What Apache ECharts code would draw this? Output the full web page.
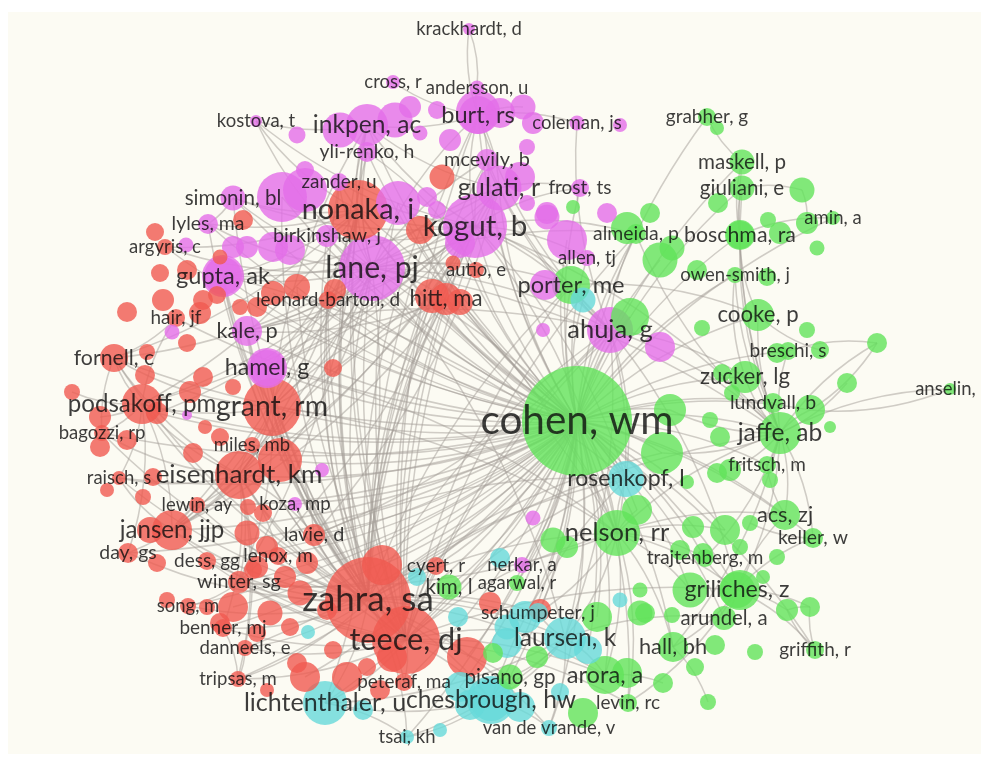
<!DOCTYPE html>
<html>
<head>
<meta charset="utf-8">
<script src="https://cdn.jsdelivr.net/npm/echarts@6/dist/echarts.min.js"></script>
<style>
  html, body { margin: 0; padding: 0; background: #ffffff; }
  #panel { position: absolute; left: 8px; top: 12px; width: 973px; height: 742px; background: #fcfbf3; }
  #chart { position: absolute; left: 0; top: 0; width: 981px; height: 760px; }
</style>
</head>
<body>
<div id="panel"></div>
<div id="chart"></div>
<script>
// Co-citation map, four clusters. Each node: [name, mapX, mapY, weight]
// names with a comma are authors that get a label, short ids are unlabeled nodes

const clusterNames = ['Cluster 1', 'Cluster 2', 'Cluster 3', 'Cluster 4'];
const clusterColors = ['#f05a50', '#62e35a', '#e46ee9', '#66d9d9'];

const redNodes = [
  ['nonaka, i', 358, 210, 60], ['zahra, sa', 368, 600, 86], ['teece, dj', 406, 640, 68],
  ['grant, rm', 272, 407, 58], ['podsakoff, pm', 142, 404, 40], ['eisenhardt, km', 239, 475, 48],
  ['jansen, jjp', 172, 530, 40], ['hitt, ma', 446, 299, 32], ['fornell, c', 114, 358, 28],
  ['bagozzi, rp', 102, 433, 16], ['miles, mb', 252, 445, 16], ['raisch, s', 119, 478, 14],
  ['lewin, ay', 197, 505, 16], ['autio, e', 476, 270, 16], ['leonard-barton, d', 328, 300, 18],
  ['hair, jf', 176, 318, 18], ['argyris, c', 165, 247, 16], ['lavie, d', 314, 535, 22],
  ['day, gs', 128, 553, 20], ['dess, gg', 207, 561, 18], ['lenox, m', 278, 556, 18],
  ['cyert, r', 436, 566, 18], ['winter, sg', 239, 582, 22], ['song, m', 188, 606, 16],
  ['benner, mj', 223, 628, 18], ['danneels, e', 245, 648, 16], ['tripsas, m', 238, 679, 16],
  ['peteraf, ma', 404, 682, 18],
  ['r1', 442, 177, 25], ['r2', 420, 230, 28], ['r3', 453, 263, 15], ['r4', 432, 296, 34],
  ['r5', 243, 220, 20], ['r6', 155, 232, 18], ['r7', 220, 257, 15], ['r8', 187, 270, 20],
  ['r9', 160, 273, 18], ['r10', 297, 287, 26], ['r11', 273, 293, 24], ['r12', 203, 300, 20],
  ['r13', 257, 307, 20], ['r14', 163, 300, 22], ['r15', 127, 312, 20], ['r16', 200, 313, 22],
  ['r17', 217, 295, 18], ['r18', 240, 307, 16], ['r19', 187, 343, 18], ['r20', 333, 368, 18],
  ['r21', 147, 352, 16], ['r22', 145, 375, 20], ['r23', 72, 392, 16], ['r24', 203, 377, 20],
  ['r25', 233, 387, 16], ['r26', 190, 392, 22], ['r27', 157, 413, 22], ['r28', 100, 417, 22],
  ['r29', 205, 427, 14], ['r30', 220, 437, 18], ['r31', 100, 447, 20], ['r32', 127, 440, 20],
  ['r33', 193, 453, 20], ['r34', 280, 460, 44], ['r35', 107, 490, 14], ['r36', 143, 497, 16],
  ['r37', 153, 477, 18], ['r38', 263, 513, 18], ['r39', 248, 507, 16], ['r40', 247, 533, 25],
  ['r41', 267, 547, 22], ['r42', 257, 567, 22], ['r43', 307, 563, 22], ['r44', 285, 577, 22],
  ['r45', 300, 593, 25], ['r46', 233, 607, 30], ['r47', 270, 613, 25], ['r48', 290, 627, 18],
  ['r49', 220, 623, 20], ['r50', 257, 633, 18], ['r51', 333, 650, 18], ['r52', 297, 663, 20],
  ['r53', 267, 690, 14], ['r54', 305, 677, 30], ['r55', 347, 677, 30], ['r56', 367, 667, 18],
  ['r57', 392, 657, 30], ['r58', 382, 565, 40], ['r59', 327, 610, 20], ['r60', 467, 657, 40],
  ['r61', 490, 603, 22], ['r62', 540, 610, 22], ['r63', 150, 530, 26], ['r64', 157, 563, 18],
  ['r65', 167, 600, 16], ['r66', 207, 607, 16], ['r67', 253, 570, 18], ['r68', 380, 690, 20],
  ['r69', 335, 290, 22], ['r70', 460, 302, 26]
];

const greenNodes = [
  ['grabher, g', 707, 117, 18], ['maskell, p', 742, 162, 25], ['giuliani, e', 742, 188, 25],
  ['amin, a', 833, 218, 14], ['almeida, p', 636, 234, 20], ['boschma, ra', 740, 235, 28],
  ['owen-smith, j', 735, 275, 16], ['porter, me', 571, 285, 38], ['cooke, p', 758, 315, 32],
  ['breschi, s', 788, 351, 18], ['zucker, lg', 745, 377, 32], ['anselin, l', 950, 389, 12],
  ['lundvall, b', 773, 403, 20], ['cohen, wm', 577, 421, 110], ['jaffe, ab', 780, 433, 42],
  ['fritsch, m', 767, 465, 18], ['acs, zj', 785, 515, 30], ['nelson, rr', 617, 533, 46],
  ['keller, w', 813, 538, 20], ['trajtenberg, m', 705, 558, 18], ['kim, l', 449, 587, 25],
  ['agarwal, r', 517, 583, 16], ['griliches, z', 737, 590, 36], ['arundel, a', 724, 618, 24],
  ['hall, bh', 673, 647, 30], ['griffith, r', 815, 650, 18], ['pisano, gp', 510, 677, 25],
  ['arora, a', 605, 675, 38], ['levin, rc', 628, 703, 18],
  ['g1', 573, 207, 14], ['g2', 650, 213, 20], ['g3', 672, 248, 25], ['g4', 660, 260, 35],
  ['g5', 627, 228, 32], ['g6', 718, 203, 20], ['g7', 717, 128, 14], ['g8', 802, 190, 25],
  ['g9', 768, 220, 16], ['g10', 807, 223, 22], ['g11', 817, 248, 15], ['g12', 780, 233, 22],
  ['g13', 697, 270, 20], ['g14', 767, 277, 18], ['g15', 630, 317, 38], ['g16', 702, 328, 16],
  ['g17', 807, 330, 16], ['g18', 777, 353, 20], ['g19', 820, 350, 18], ['g20', 877, 343, 20],
  ['g21', 847, 383, 20], ['g22', 722, 373, 18], ['g23', 732, 393, 16], ['g24', 810, 410, 30],
  ['g25', 830, 427, 12], ['g26', 710, 420, 16], ['g27', 720, 437, 20], ['g28', 670, 410, 32],
  ['g29', 662, 453, 42], ['g30', 717, 473, 20], ['g31', 730, 470, 22], ['g32', 770, 480, 16],
  ['g33', 687, 482, 14], ['g34', 750, 523, 16], ['g35', 725, 530, 30], ['g36', 693, 527, 22],
  ['g37', 777, 557, 16], ['g38', 740, 547, 16], ['g39', 680, 550, 20], ['g40', 703, 553, 20],
  ['g41', 690, 590, 35], ['g42', 763, 577, 14], ['g43', 787, 610, 22], ['g44', 810, 607, 20],
  ['g45', 672, 615, 16], ['g46', 645, 613, 20], ['g47', 715, 645, 20], ['g48', 755, 652, 16],
  ['g49', 695, 667, 18], ['g50', 663, 683, 20], ['g51', 708, 702, 16], ['g52', 637, 510, 30],
  ['g53', 553, 540, 25], ['g54', 567, 547, 22], ['g55', 640, 590, 15], ['g56', 640, 613, 25],
  ['g57', 597, 617, 30], ['g58', 493, 653, 20], ['g59', 537, 657, 22], ['g60', 627, 673, 30],
  ['g61', 583, 713, 30], ['g62', 740, 590, 40], ['g63', 740, 235, 30]
];

const magentaNodes = [
  ['krackhardt, d', 469, 29, 12], ['cross, r', 393, 82, 14], ['andersson, u', 477, 88, 15],
  ['kostova, t', 256, 121, 12], ['inkpen, ac', 367, 125, 42], ['burt, rs', 478, 115, 38],
  ['coleman, js', 577, 123, 15], ['yli-renko, h', 367, 152, 20], ['mcevily, b', 487, 160, 22],
  ['gulati, r', 499, 188, 45], ['frost, ts', 580, 188, 18], ['zander, u', 339, 182, 18],
  ['simonin, bl', 233, 198, 25], ['kogut, b', 475, 226, 64], ['birkinshaw, j', 327, 236, 22],
  ['lyles, ma', 208, 224, 20], ['lane, pj', 372, 268, 66], ['allen, tj', 587, 258, 16],
  ['gupta, ak', 223, 276, 38], ['kale, p', 247, 331, 30], ['ahuja, g', 610, 330, 46],
  ['hamel, g', 267, 368, 36], ['koza, mp', 295, 504, 14], ['nerkar, a', 522, 565, 16],
  ['m1', 297, 135, 17], ['m2', 340, 130, 35], ['m3', 395, 120, 35], ['m4', 410, 107, 22],
  ['m5', 420, 133, 15], ['m6', 450, 140, 22], ['m7', 305, 170, 18], ['m8', 282, 197, 50],
  ['m9', 305, 190, 44], ['m10', 398, 203, 44], ['m11', 427, 197, 20], ['m12', 273, 247, 30],
  ['m13', 290, 250, 30], ['m14', 186, 245, 15], ['m15', 233, 247, 22], ['m16', 247, 247, 22],
  ['m17', 460, 243, 30], ['m18', 500, 113, 30], ['m19', 523, 107, 25], ['m20', 533, 123, 22],
  ['m21', 527, 147, 16], ['m22', 437, 110, 18], ['m23', 620, 125, 14], ['m24', 520, 177, 30],
  ['m25', 527, 203, 16], ['m26', 547, 213, 22], ['m27', 437, 210, 18], ['m28', 607, 213, 20],
  ['m29', 567, 240, 40], ['m30', 547, 217, 25], ['m31', 660, 347, 30], ['m32', 543, 330, 14],
  ['m33', 545, 285, 30], ['m34', 533, 518, 15], ['m35', 322, 470, 14], ['m36', 172, 332, 15],
  ['m37', 187, 415, 10], ['m38', 223, 276, 42], ['m39', 267, 368, 40], ['m40', 478, 112, 44]
];

const cyanNodes = [
  ['rosenkopf, l', 626, 479, 36], ['schumpeter, j', 538, 613, 20], ['laursen, k', 565, 638, 42],
  ['chesbrough, hw', 491, 700, 42], ['lichtenthaler, u', 325, 703, 44],
  ['van de vrande, v', 549, 728, 16], ['tsai, kh', 407, 737, 14],
  ['c1', 583, 300, 25], ['c2', 500, 558, 20], ['c3', 417, 577, 18], ['c4', 620, 600, 15],
  ['c5', 458, 617, 20], ['c6', 507, 627, 25], ['c7', 525, 617, 32], ['c8', 507, 643, 30],
  ['c9', 460, 687, 30], ['c10', 520, 707, 30], ['c11', 560, 692, 18], ['c12', 440, 730, 14],
  ['c13', 363, 710, 20], ['c14', 308, 632, 14], ['c15', 588, 650, 28], ['c16', 470, 705, 30],
  ['c17', 491, 700, 48]
];

// links, listed by hub
const cohenTo = ['zahra, sa','teece, dj','lane, pj','kogut, b','nonaka, i','grant, rm','eisenhardt, km',
  'podsakoff, pm','jansen, jjp','gupta, ak','hamel, g','ahuja, g','porter, me','nelson, rr','jaffe, ab',
  'griliches, z','laursen, k','chesbrough, hw','lichtenthaler, u','arora, a','rosenkopf, l','zucker, lg',
  'cooke, p','breschi, s','boschma, ra','almeida, p','owen-smith, j','lundvall, b','fritsch, m','acs, zj',
  'keller, w','trajtenberg, m','hall, bh','arundel, a','levin, rc','schumpeter, j','kim, l','agarwal, r',
  'nerkar, a','pisano, gp','tsai, kh','van de vrande, v','inkpen, ac','burt, rs','gulati, r','mcevily, b',
  'yli-renko, h','simonin, bl','fornell, c','hitt, ma','leonard-barton, d','kale, p','miles, mb','lavie, d',
  'lenox, m','winter, sg','dess, gg','cyert, r','danneels, e','benner, mj','tripsas, m','peteraf, ma',
  'day, gs','lewin, ay','koza, mp','giuliani, e','maskell, p','griffith, r','frost, ts','allen, tj',
  'autio, e','birkinshaw, j','zander, u','bagozzi, rp','raisch, s','song, m','hair, jf','lyles, ma',
  'argyris, c','grabher, g','amin, a','r4','r34','r58','r60','r2','r10','r11','r27','r46','r54',
  'g15','g28','g29','g24','g35','g41','g52','g57','g4','m29','m17','m8','m10','c7','c9','c15','c1'];
const zahraTo = ['lane, pj','nonaka, i','kogut, b','teece, dj','eisenhardt, km','grant, rm','jansen, jjp',
  'lichtenthaler, u','chesbrough, hw','gupta, ak','hamel, g','podsakoff, pm','ahuja, g','laursen, k',
  'nelson, rr','inkpen, ac','gulati, r','winter, sg','lavie, d','lenox, m','dess, gg','miles, mb','tsai, kh',
  'fornell, c','hitt, ma','simonin, bl','yli-renko, h','kale, p','danneels, e','benner, mj','tripsas, m',
  'peteraf, ma','bagozzi, rp','raisch, s','day, gs','lewin, ay','song, m','jaffe, ab','porter, me',
  'rosenkopf, l','schumpeter, j','arora, a','leonard-barton, d','zander, u','birkinshaw, j','lyles, ma',
  'van de vrande, v','burt, rs','mcevily, b','r2','r4','m17','m8','g29','c7'];
const teeceTo = ['lane, pj','nonaka, i','kogut, b','grant, rm','eisenhardt, km','jansen, jjp',
  'lichtenthaler, u','chesbrough, hw','gupta, ak','hamel, g','ahuja, g','laursen, k','nelson, rr',
  'inkpen, ac','winter, sg','lavie, d','dess, gg','miles, mb','hitt, ma','porter, me','leonard-barton, d',
  'peteraf, ma','cyert, r','pisano, gp','levin, rc','griliches, z','arora, a','tripsas, m','danneels, e',
  'benner, mj','koza, mp','kale, p','burt, rs','gulati, r','rosenkopf, l','almeida, p','r4','r10','m10','g15'];
const laneTo = ['kogut, b','nonaka, i','inkpen, ac','gulati, r','burt, rs','hamel, g','grant, rm','gupta, ak',
  'simonin, bl','lyles, ma','ahuja, g','yli-renko, h','mcevily, b','zander, u','birkinshaw, j','kale, p',
  'jansen, jjp','eisenhardt, km','podsakoff, pm','fornell, c','hitt, ma','autio, e','nelson, rr','porter, me',
  'jaffe, ab','rosenkopf, l','almeida, p','laursen, k','lichtenthaler, u','kostova, t','argyris, c','r27','r34'];
const kogutTo = ['nonaka, i','inkpen, ac','gulati, r','burt, rs','grant, rm','gupta, ak','simonin, bl',
  'zander, u','birkinshaw, j','almeida, p','ahuja, g','nelson, rr','eisenhardt, km','hamel, g','porter, me',
  'jaffe, ab','rosenkopf, l','kale, p','mcevily, b','allen, tj','frost, ts','leonard-barton, d','kostova, t',
  'winter, sg','jansen, jjp','podsakoff, pm'];
const nonakaTo = ['grant, rm','hamel, g','inkpen, ac','simonin, bl','lyles, ma','gupta, ak','birkinshaw, j',
  'eisenhardt, km','leonard-barton, d','podsakoff, pm','argyris, c','kostova, t','nelson, rr','winter, sg',
  'fornell, c','jansen, jjp'];
const grantTo = ['eisenhardt, km','podsakoff, pm','hamel, g','gupta, ak','kale, p','miles, mb','fornell, c',
  'jansen, jjp','winter, sg','leonard-barton, d','nelson, rr','lavie, d','inkpen, ac','hitt, ma'];
const eisenhardtTo = ['podsakoff, pm','jansen, jjp','miles, mb','lavie, d','lenox, m','winter, sg','fornell, c',
  'bagozzi, rp','raisch, s','lewin, ay','day, gs','benner, mj','danneels, e','tripsas, m','hitt, ma'];
const podsakoffTo = ['fornell, c','bagozzi, rp','hair, jf','jansen, jjp','raisch, s','day, gs','r23','r28'];
const ahujaTo = ['gulati, r','burt, rs','porter, me','rosenkopf, l','nelson, rr','jaffe, ab','almeida, p',
  'laursen, k','coleman, js','mcevily, b','lavie, d','griliches, z'];
const burtTo = ['krackhardt, d','coleman, js','gulati, r','mcevily, b','andersson, u','cross, r','inkpen, ac','m18','m19'];
const gulatiTo = ['kale, p','inkpen, ac','hamel, g','lavie, d','mcevily, b','frost, ts','gupta, ak'];
const nelsonTo = ['griliches, z','jaffe, ab','trajtenberg, m','arora, a','levin, rc','hall, bh','schumpeter, j',
  'rosenkopf, l','laursen, k','acs, zj','winter, sg','g35','g41','g52'];
const jaffeTo = ['griliches, z','trajtenberg, m','cooke, p','breschi, s','zucker, lg','anselin, l','acs, zj',
  'keller, w','lundvall, b','fritsch, m','hall, bh','maskell, p','giuliani, e','g24','g20','almeida, p',
  'boschma, ra','owen-smith, j','g29','g28','g31'];
const grilichesTo = ['hall, bh','trajtenberg, m','arundel, a','griffith, r','keller, w','levin, rc','acs, zj','g43','g44'];
const laursenTo = ['chesbrough, hw','lichtenthaler, u','van de vrande, v','tsai, kh','arora, a','schumpeter, j',
  'arundel, a','pisano, gp'];
const chesbroughTo = ['lichtenthaler, u','van de vrande, v','tsai, kh','rosenkopf, l','pisano, gp','c9','c16'];
const otherLinks = [
  ['boschma, ra','maskell, p'], ['boschma, ra','giuliani, e'], ['boschma, ra','amin, a'],
  ['maskell, p','grabher, g'], ['giuliani, e','g8'], ['cooke, p','boschma, ra'], ['breschi, s','g20'],
  ['g20','g24'], ['anselin, l','g24'], ['griffith, r','g44'], ['keller, w','g34'], ['g8','g10'],
  ['lichtenthaler, u','tsai, kh'], ['krackhardt, d','andersson, u'], ['hair, jf','fornell, c'],
  ['bagozzi, rp','fornell, c'], ['jansen, jjp','raisch, s'], ['jansen, jjp','lewin, ay'],
  ['winter, sg','song, m'], ['benner, mj','tripsas, m'], ['danneels, e','tripsas, m'],
  ['lavie, d','koza, mp'], ['inkpen, ac','kostova, t'], ['simonin, bl','lyles, ma'],
  ['zander, u','birkinshaw, j'], ['yli-renko, h','autio, e'], ['hitt, ma','kale, p'],
  ['cyert, r','winter, sg'], ['g21','jaffe, ab'], ['g19','cooke, p'], ['zucker, lg','owen-smith, j'],
  ['acs, zj','fritsch, m'], ['g43','g44'], ['griffith, r','g43'], ['hall, bh','g51'], ['arora, a','g50'],
  ['hitt, ma','nelson, rr'], ['hitt, ma','jansen, jjp'], ['ahuja, g','zucker, lg'], ['porter, me','cooke, p'],
  ['gupta, ak','rosenkopf, l'], ['hamel, g','nelson, rr'], ['lavie, d','rosenkopf, l'], ['kale, p','ahuja, g']
];

const hubLinks = [
  ['cohen, wm', cohenTo], ['zahra, sa', zahraTo], ['teece, dj', teeceTo], ['lane, pj', laneTo],
  ['kogut, b', kogutTo], ['nonaka, i', nonakaTo], ['grant, rm', grantTo], ['eisenhardt, km', eisenhardtTo],
  ['podsakoff, pm', podsakoffTo], ['ahuja, g', ahujaTo], ['burt, rs', burtTo], ['gulati, r', gulatiTo],
  ['nelson, rr', nelsonTo], ['jaffe, ab', jaffeTo], ['griliches, z', grilichesTo], ['laursen, k', laursenTo],
  ['chesbrough, hw', chesbroughTo]
];

const links = [];
hubLinks.forEach(([hub, list]) => list.forEach(t => links.push({ source: hub, target: t })));
otherLinks.forEach(([a, b]) => links.push({ source: a, target: b }));

const clusters = [redNodes, greenNodes, magentaNodes, cyanNodes];
let nodes = [];
clusters.forEach((list, c) => list.forEach(n => nodes.push({ name: n[0], x: n[1], y: n[2], w: n[3], c: c })));
// big circles first so the small ones sit on top
nodes.sort((a, b) => b.w - a.w);

function labelFont(w) {
  return Math.max(18.5, 14.75 + 0.234 * w);
}

const chart = echarts.init(document.getElementById('chart'), null, { renderer: 'canvas' });

const option = {
  animation: false,
  backgroundColor: 'transparent',
  grid: { left: 0, right: 0, top: 0, bottom: 0 },
  xAxis: { type: 'value', min: 0, max: 981, show: false },
  yAxis: { type: 'value', min: 0, max: 760, inverse: true, show: false },
  series: [
    {
      type: 'graph',
      coordinateSystem: 'cartesian2d',
      silent: true,
      categories: clusterNames.map((n, i) => ({ name: n, itemStyle: { color: clusterColors[i] } })),
      data: nodes.map(n => ({ name: n.name, value: [n.x, n.y], symbolSize: n.w, category: n.c })),
      links: links,
      itemStyle: { opacity: 0.8 },
      lineStyle: { color: '#a39e97', opacity: 0.5, width: 1.5, curveness: 0.12 },
      label: { show: false },
      z: 2
    },
    {
      type: 'scatter',
      silent: true,
      symbolSize: 1,
      itemStyle: { color: 'transparent' },
      data: nodes.filter(n => n.name.indexOf(',') > -1).map(n => ({
        name: n.name,
        value: [n.x, n.y],
        label: { fontSize: labelFont(n.w) }
      })),
      label: {
        show: true,
        position: 'inside',
        formatter: '{b}',
        color: '#0d0d0d',
        fontFamily: 'Lato'
      },
      z: 5
    }
  ]
};

chart.setOption(option);
</script>
</body>
</html>
